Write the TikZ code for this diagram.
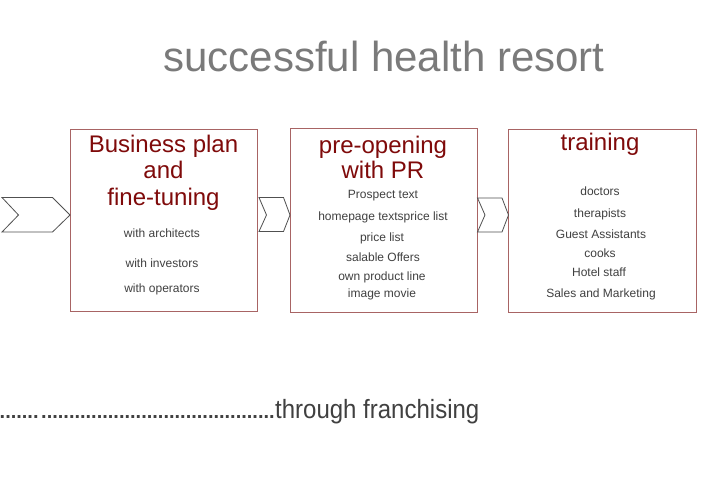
\documentclass[tikz,border=0pt]{standalone}
\usepackage{fontspec}
\setmainfont{Liberation Sans}
\definecolor{titlegray}{HTML}{7A7A7A}
\definecolor{headred}{HTML}{7F0A0A}
\definecolor{boxline}{HTML}{A86464}
\definecolor{bodygray}{HTML}{404040}
\definecolor{chevline}{HTML}{505050}
\tikzset{
  stagebox/.style={draw=boxline, line width=0.9pt},
  headtext/.style={inner sep=0pt, anchor=base, text=headred, font=\fontsize{24}{26}\selectfont},
  itemtext/.style={inner sep=0pt, anchor=base, text=bodygray, font=\fontsize{12}{14}\selectfont},
  dottext/.style={inner sep=0pt, anchor=base west, text=bodygray, font=\fontsize{20}{22}\selectfont\bfseries},
  chev/.style={draw=chevline, line width=0.8pt, line join=miter},
}
\begin{document}
\begin{tikzpicture}[x=1pt,y=-1pt]
\useasboundingbox (0,0) rectangle (728,490);
\fill[white] (0,0) rectangle (728,490);

% title
\node[inner sep=0pt, anchor=base, text=titlegray, font=\fontsize{42}{46}\selectfont] (title) at (384,71.5) {successful health resort};

% boxes
\draw[stagebox] (70,129) rectangle (257,311.5);
\draw[stagebox] (290,128.5) rectangle (477.5,312.5);
\draw[stagebox] (508.5,129) rectangle (696,312.5);

% chevrons
\draw[chev] (2,197.5) -- (52.5,197.5) -- (70,215) -- (52.5,232) -- (2,232) -- (18.5,215) -- cycle;
\draw[chev] (259,197.5) -- (283.5,197.5) -- (290,215) -- (283.5,231.5) -- (259,231.5) -- (266.5,215) -- cycle;
\draw[chev] (477.5,198) -- (502,198) -- (508.5,215) -- (502,232) -- (477.5,232) -- (485,215) -- cycle;

% box 1
\node[headtext] (b1a) at (163.5,152) {Business plan};
\node[headtext] (b1b) at (163.5,178.3) {and};
\node[headtext] (b1c) at (163.5,205) {fine-tuning};
\node[itemtext] (b1i1) at (162,237) {with architects};
\node[itemtext] (b1i2) at (162,267.5) {with investors};
\node[itemtext] (b1i3) at (162,292.5) {with operators};

% box 2
\node[headtext] (b2a) at (383,153) {pre-opening};
\node[headtext] (b2b) at (383,178) {with PR};
\node[itemtext] (b2i1) at (383,198.5) {Prospect text};
\node[itemtext] (b2i2) at (383,220.5) {homepage textsprice list};
\node[itemtext] (b2i3) at (382,241.5) {price list};
\node[itemtext] (b2i4) at (383,261.5) {salable Offers};
\node[itemtext] (b2i5) at (382,280.5) {own product line};
\node[itemtext] (b2i6) at (382,297.5) {image movie};

% box 3
\node[headtext] (b3a) at (600,150) {training};
\node[itemtext] (b3i1) at (600,195) {doctors};
\node[itemtext] (b3i2) at (600,217.7) {therapists};
\node[itemtext] (b3i3) at (601,238.7) {Guest Assistants};
\node[itemtext] (b3i4) at (600,257) {cooks};
\node[itemtext] (b3i5) at (599,276) {Hotel staff};
\node[itemtext] (b3i6) at (601,297.7) {Sales and Marketing};

% bottom line
\node[dottext] (dots1) at (-0.5,418) {.......};
\node[dottext] (dots2) at (41,418) {..........................................};
\node[inner sep=0pt, anchor=base west, text=bodygray, font=\fontsize{24}{26}\selectfont, yscale=1.1] (fran) at (275,418.5) {through franchising};
\end{tikzpicture}
\end{document}
